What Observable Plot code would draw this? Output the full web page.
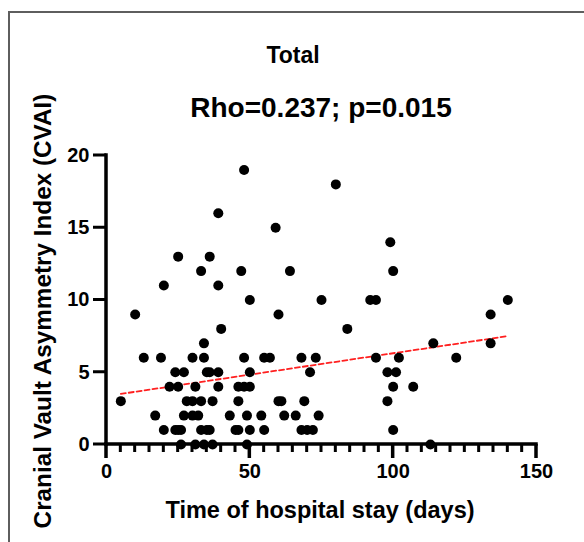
<!DOCTYPE html>
<html><head><meta charset="utf-8">
<script src="https://cdn.jsdelivr.net/npm/d3@7"></script>
<script src="https://cdn.jsdelivr.net/npm/@observablehq/plot@0.6"></script>
<style>
body{margin:0;background:#fff;}
#wrap{position:relative;width:584px;height:542px;overflow:hidden;font-family:"Liberation Sans",Arial,sans-serif;font-weight:bold;color:#000;}
#frame{position:absolute;left:8px;top:11px;width:700px;height:700px;border-left:2px solid #5e5e5e;border-top:2px solid #5e5e5e;}
#chart{position:absolute;left:0;top:0;width:584px;height:542px;z-index:2;}
#chart svg{overflow:visible;}
.t{position:absolute;white-space:nowrap;transform:translate(-50%,-50%);line-height:1;z-index:1;}
</style></head><body>
<div id="wrap">
<div id="frame"></div>
<div class="t" style="left:293px;top:55px;font-size:23px">Total</div>
<div class="t" style="left:321px;top:108px;font-size:28px">Rho=0.237; p=0.015</div>
<div class="t" style="left:320px;top:511px;font-size:23.5px">Time of hospital stay (days)</div>
<div class="t" style="left:43px;top:311px;font-size:24.3px;transform:translate(-50%,-50%) rotate(-90deg)">Cranial Vault Asymmetry Index (CVAI)</div>
<div id="chart"></div>
</div>
<script>
// Time of hospital stay (days)
const stayDays = [
  48,39,59,25,36,33,47,64,20,39,50,75,80,99,100,92,94,140,
  10,60,134,
  40,84,
  34,114,134,
  13,19,30,34,48,55,57,68,73,94,102,122,
  24,27,35,36,39,50,71,98,101,
  22,25,31,39,46,48,50,100,107,
  5,28,30,33,37,46,60,61,69,98,
  17,27,30,32,43,49,54,62,66,74,
  20,24,25,26,33,35,36,45,46,50,55,68,70,72,100,
  26,31,34,37,49,113
];
// CVAI values
const cvai = [
  19,16,15,13,13,12,12,12,11,11,10,10,18,14,12,10,10,10,
  9,9,9,
  8,8,
  7,7,7,
  6,6,6,6,6,6,6,6,6,6,6,6,
  5,5,5,5,5,5,5,5,5,
  4,4,4,4,4,4,4,4,4,
  3,3,3,3,3,3,3,3,3,3,
  2,2,2,2,2,2,2,2,2,2,
  1,1,1,1,1,1,1,1,1,1,1,1,1,1,1,
  0,0,0,0,0,0
];
// fitted trend line (as drawn in the reference)
const fitX = [5, 140];
const fitY = [3.5, 7.5];

const xMajorTicks = [0, 50, 100, 150];
const xMinorTicks = d3.range(0, 151, 5).filter(d => d % 50 !== 0);
const yTicks = [0, 5, 10, 15, 20];

const data = stayDays.map((d, i) => ({x: d, y: cvai[i]}));
const fit = fitX.map((d, i) => ({x: d, y: fitY[i]}));

const chart = Plot.plot({
  width: 584, height: 542,
  marginLeft: 106, marginRight: 48, marginTop: 155, marginBottom: 98,
  x: {domain: [0, 150]},
  y: {domain: [0, 20]},
  style: {fontFamily: "Liberation Sans, Arial, sans-serif", fontWeight: "bold", fontSize: "20px", color: "#000", background: "transparent"},
  marks: [
    Plot.axisX({ticks: xMajorTicks, tickSize: 0, tickPadding: 19, fontSize: 20, label: null}),
    Plot.axisY({ticks: yTicks, tickSize: 0, tickPadding: 17, fontSize: 20, label: null}),
    Plot.line(fit, {x: "x", y: "y", stroke: "#ff2020", strokeWidth: 1.8, strokeDasharray: "5,3"}),
    Plot.dot(data, {x: "x", y: "y", r: 5, fill: "#000", stroke: "none"})
  ]
});
document.getElementById("chart").appendChild(chart);

// axis lines and tick marks, placed with the plot's own scales
const sx = chart.scale("x"), sy = chart.scale("y");
const x0 = sx.apply(0), x150 = sx.apply(150), y0 = sy.apply(0), y20 = sy.apply(20);
const g = d3.select(chart).append("g").attr("fill", "#000");
const bar = (x, y, w, h) => g.append("rect").attr("x", x).attr("y", y).attr("width", w).attr("height", h);
bar(x0 - 1.75, y20 - 1.75, 3.5, y0 - y20 + 3.5);     // y axis line
bar(x0 - 1.75, y0 - 1.75, x150 - x0 + 3.5, 3.5);     // x axis line
xMinorTicks.forEach(t => bar(sx.apply(t) - 1.5, y0, 3, 8));
xMajorTicks.forEach(t => bar(sx.apply(t) - 1.75, y0, 3.5, 14));
yTicks.forEach(t => bar(x0 - 13, sy.apply(t) - 1.5, 13, 3));
// keep dots on top of the axis
d3.select(chart).node().appendChild(chart.querySelector("g[aria-label='dot']"));
</script>
</body></html>
